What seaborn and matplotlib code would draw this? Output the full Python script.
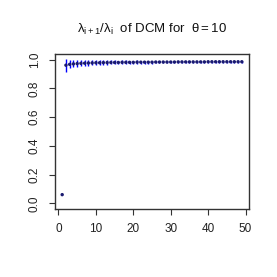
import numpy as np
import pandas as pd
import matplotlib
matplotlib.use("Agg")
import matplotlib.pyplot as plt
import seaborn as sns

# index i and ratio lambda_{i+1}/lambda_i with error half-widths
idx = list(range(1, 50))
ratio = [0.060, 0.962, 0.968, 0.971, 0.973, 0.975, 0.976, 0.977, 0.978, 0.979,
         0.979, 0.980, 0.980, 0.981, 0.981, 0.981, 0.982, 0.982, 0.982, 0.982,
         0.983, 0.983, 0.983, 0.983, 0.983, 0.984, 0.984, 0.984, 0.984, 0.984,
         0.984, 0.985, 0.985, 0.985, 0.985, 0.985, 0.985, 0.985, 0.985, 0.986,
         0.986, 0.986, 0.986, 0.986, 0.986, 0.986, 0.986, 0.986, 0.986]
err = [0.000, 0.045, 0.028, 0.024, 0.022, 0.020, 0.019, 0.018, 0.017, 0.016,
       0.016, 0.015, 0.015, 0.014, 0.014, 0.013, 0.013, 0.013, 0.012, 0.012,
       0.012, 0.011, 0.011, 0.011, 0.011, 0.010, 0.010, 0.010, 0.010, 0.010,
       0.009, 0.009, 0.009, 0.009, 0.009, 0.009, 0.008, 0.008, 0.008, 0.008,
       0.008, 0.008, 0.008, 0.008, 0.007, 0.007, 0.007, 0.007, 0.007]

df = pd.DataFrame({"i": idx, "ratio": ratio, "err": err})

sns.set_style("ticks")
plt.rcParams["font.family"] = ["Liberation Sans", "DejaVu Sans"]
plt.rcParams["mathtext.fontset"] = "custom"
plt.rcParams["mathtext.rm"] = "Liberation Sans"
plt.rcParams["mathtext.it"] = "Liberation Sans"

fig = plt.figure(figsize=(2.77, 2.77), dpi=100)
ax = fig.add_axes([55 / 277, 68 / 277, 194 / 277, 155 / 277])

# error bars
ax.vlines(df["i"], df["ratio"] - df["err"], df["ratio"] + df["err"],
          color="#0000ff", lw=1.0, zorder=2)
sns.scatterplot(data=df, x="i", y="ratio", ax=ax, color="#1a1a70", s=6,
                edgecolor="none", zorder=3, legend=False)

ax.set_xlim(-0.92, 50.92)
ax.set_ylim(-0.04, 1.04)
ax.set_xticks([0, 10, 20, 30, 40, 50])
ax.set_yticks([0.0, 0.2, 0.4, 0.6, 0.8, 1.0])
ax.set_yticklabels(["0.0", "0.2", "0.4", "0.6", "0.8", "1.0"], rotation=90, va="center")
ax.set_xlabel("")
ax.set_ylabel("")
for s in ax.spines.values():
    s.set_visible(True)
    s.set_color("#333333")
    s.set_linewidth(1.0)
ax.tick_params(labelsize=8.5, length=4.3, width=0.8, color="#333333",
               labelcolor="#222222", pad=6)

ax.set_title(r"$\lambda_{i+1}/\lambda_i$  of DCM for  $\theta = 10$",
             fontsize=9.5, pad=15, color="#111111")

fig.savefig("out.png", dpi=100)
